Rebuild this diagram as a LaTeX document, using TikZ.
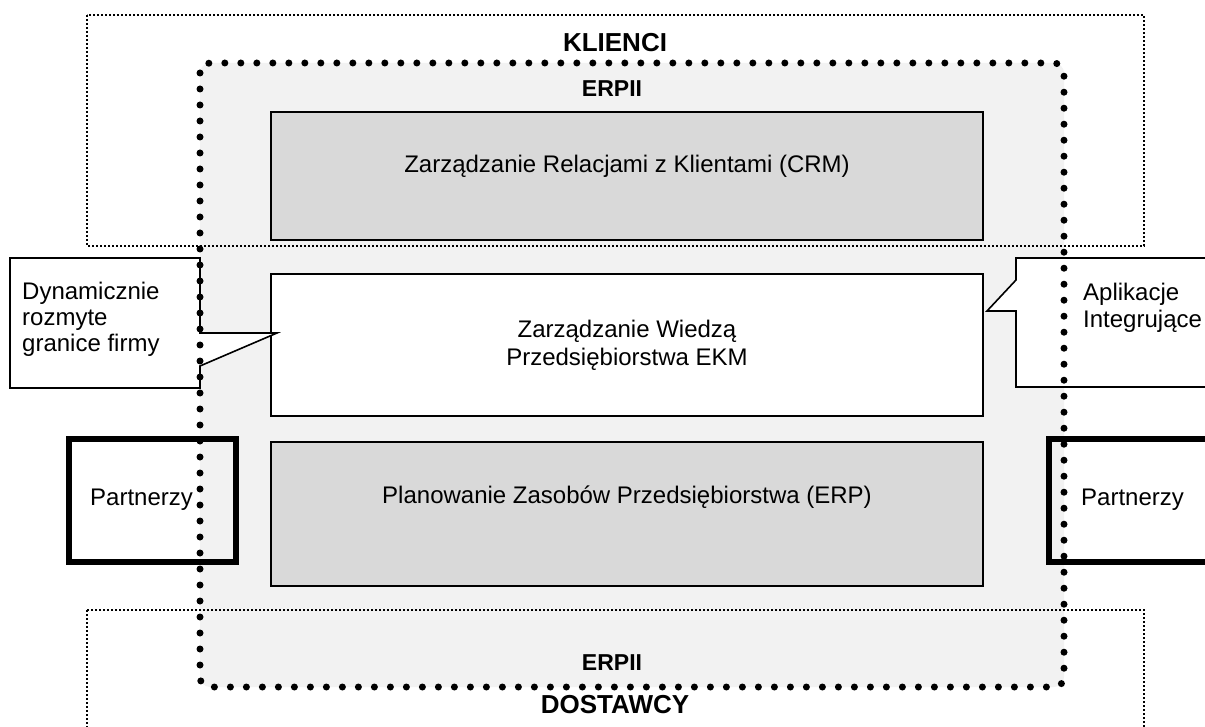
\documentclass[tikz,border=0pt]{standalone}
\usepackage{fontspec}
\setmainfont{Liberation Sans}
\definecolor{erpfill}{HTML}{F2F2F2}
\definecolor{boxfill}{HTML}{D9D9D9}
\tikzset{
  bigdots/.style={line width=7pt, line cap=round, dash pattern=on 0pt off 16pt},
  smalldots/.style={line width=2.2pt, dash pattern=on 1.8pt off 2.2pt},
  modbox/.style={draw, line width=1.6pt, minimum width=712pt, inner sep=0pt},
  callout/.style={draw, line width=1.6pt, fill=white},
  partbox/.style={draw, line width=6pt, inner sep=0pt},
  txt/.style={font=\fontsize{24}{28}\selectfont, inner sep=0pt},
  ttl/.style={font=\fontsize{26}{30}\selectfont\bfseries, inner sep=0pt},
  sub/.style={font=\fontsize{23}{28}\selectfont\bfseries, inner sep=0pt},
}
\begin{document}
\begin{tikzpicture}[x=1pt, y=-1pt]
\useasboundingbox (0,0) rectangle (1205,727);
\clip (0,0) rectangle (1205,727);
% ERPII fill
\fill[erpfill, rounded corners=10pt] (200,63) rectangle (1064,687);
% customer / supplier regions
\draw[smalldots] (87,15) rectangle (1144,246);
\draw[smalldots] (87,610) rectangle (1144,760);
% module boxes
\node[modbox, fill=boxfill, minimum height=128pt] (crm) at (627,176) {};
\node[modbox, fill=white, minimum height=142pt] (ekm) at (627,345) {};
\node[modbox, fill=boxfill, minimum height=144pt] (erp) at (627,514) {};
\node[txt, anchor=base] (crmtxt) at (627,173) {Zarządzanie Relacjami z Klientami (CRM)};
\node[txt, anchor=base, align=center, font=\fontsize{24}{28}\selectfont] (ekmtxt) at (627,365) {Zarządzanie Wiedzą\\Przedsiębiorstwa EKM};
\node[txt, anchor=base] (erptxt) at (627,503) {Planowanie Zasobów Przedsiębiorstwa (ERP)};
% callouts
\coordinate (ltip) at (277,333);
\coordinate (rtip) at (987,311);
\draw[callout] (10,258) -- (200,258) -- (200,333) -- (ltip) -- (200,366) -- (200,388) -- (10,388) -- cycle;
\draw[callout] (1016,258) -- (1220,258) -- (1220,387) -- (1016,387) -- (1016,311) -- (rtip) -- (1016,280) -- cycle;
\node[txt, anchor=base west, align=left, font=\fontsize{24}{26.2}\selectfont] (dyn) at (22,352) {Dynamicznie\\rozmyte\\granice firmy};
\node[txt, anchor=base west, align=left, font=\fontsize{24}{27}\selectfont] (apl) at (1083,327) {Aplikacje\\Integrujące};
% partners
\node[partbox, minimum width=167pt, minimum height=123pt] (pl) at (152.5,500.5) {};
\node[partbox, minimum width=170pt, minimum height=123pt] (pr) at (1134,500.5) {};
\node[txt, anchor=base west] (pltxt) at (90,505) {Partnerzy};
\node[txt, anchor=base west] (prtxt) at (1081,505) {Partnerzy};
% ERPII border
\draw[bigdots, rounded corners=10pt] (200,63) rectangle (1064,687);
% titles
\node[ttl, anchor=base] (klienci) at (615,52) {KLIENCI};
\node[sub, anchor=base] (erp1) at (612,97) {ERPII};
\node[sub, anchor=base] (erp2) at (612,670) {ERPII};
\node[ttl, anchor=base] (dost) at (615,713) {DOSTAWCY};
\end{tikzpicture}
\end{document}
